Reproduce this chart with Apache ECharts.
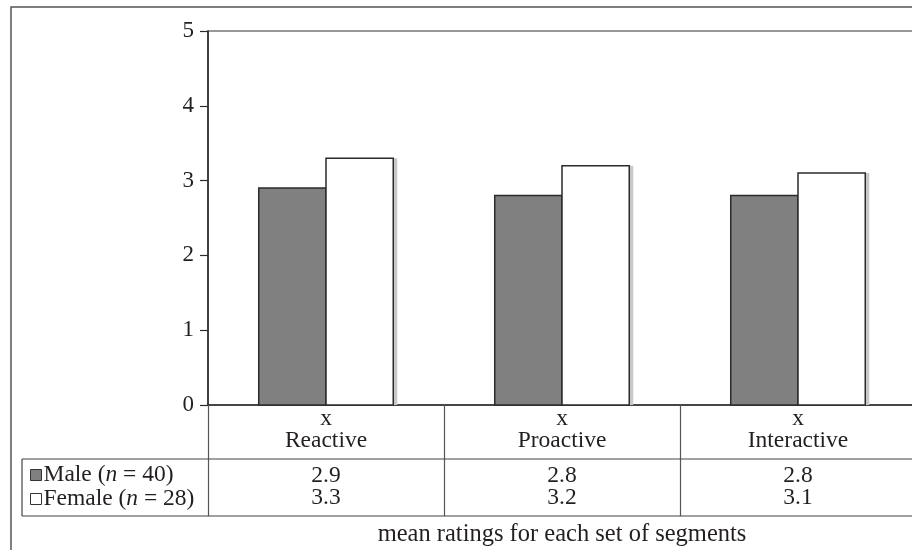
<!DOCTYPE html>
<html>
<head>
<meta charset="utf-8">
<script src="https://cdn.jsdelivr.net/npm/echarts@6/dist/echarts.min.js"></script>
<style>
  html, body { margin: 0; padding: 0; background: #fff; }
  #chart { width: 912px; height: 550px; }
</style>
</head>
<body>
<div id="chart"></div>
<script>
// Segment types along the x axis
const categories = ['Reactive', 'Proactive', 'Interactive'];
// Mean ratings per group
const maleValues = [2.9, 2.8, 2.8];
const femaleValues = [3.3, 3.2, 3.1];
// Group names and sample sizes
const groupNames = ['Male', 'Female'];
const groupCounts = [40, 28];
// Value axis ticks
const yTicks = [0, 1, 2, 3, 4, 5];
const axisTitle = 'mean ratings for each set of segments';

const FONT = 'Liberation Serif';
const INK = '#231f20';
const EDGE = '#2b2b2b';
const CATEGORY_GAP = 0.43;          // share of each category left empty
const groupFills = ['#808080', '#ffffff'];

const chart = echarts.init(document.getElementById('chart'), null, { renderer: 'canvas' });

// Bars drawn side by side in each category, each with a flat drop shadow to its right.
function barRenderer(groupIndex) {
  return function (params, api) {
    const cat = api.value(0);
    const val = api.value(1);
    const top = api.coord([cat, val]);
    const base = api.coord([cat, 0]);
    const bandWidth = api.size([1, 0])[0];
    const w = bandWidth * (1 - CATEGORY_GAP) / 2;
    const x = groupIndex === 0 ? top[0] - w : top[0];
    const h = base[1] - top[1];
    return {
      type: 'group',
      children: [
        { type: 'rect', shape: { x: x + 4, y: top[1], width: w, height: h },
          style: { fill: '#c9c9c9' } },
        { type: 'rect', shape: { x: x, y: top[1], width: w, height: h },
          style: { fill: groupFills[groupIndex], stroke: EDGE, lineWidth: 1.5 } }
      ]
    };
  };
}

chart.setOption({
  animation: false,
  backgroundColor: '#fff',
  textStyle: { fontFamily: FONT, color: INK },
  grid: {
    left: 208, width: 708, top: 31, bottom: 145,
    containLabel: false,
    outerBoundsMode: 'none',
    show: true, borderColor: '#333', borderWidth: 1.2, backgroundColor: 'transparent'
  },
  legend: {
    orient: 'vertical',
    left: 25,
    top: 458,
    itemWidth: 11,
    itemHeight: 11,
    itemGap: 0,
    icon: 'rect',
    data: groupNames,
    itemStyle: { borderColor: '#333', borderWidth: 1 },
    textStyle: {
      fontFamily: FONT, fontSize: 23.5, color: INK, lineHeight: 20, padding: [0, 0, 0, -3],
      rich: {
        i: { fontFamily: FONT, fontSize: 23.5, fontStyle: 'italic', color: INK, lineHeight: 20 }
      }
    },
    formatter: name => `${name} ({i|n} = ${groupCounts[groupNames.indexOf(name)]})`
  },
  xAxis: {
    type: 'category',
    data: categories,
    boundaryGap: true,
    axisLine: { lineStyle: { color: EDGE, width: 1.5 } },
    axisTick: { show: true, length: 111, lineStyle: { color: '#555', width: 1.2 } },
    axisLabel: {
      margin: 3,
      interval: 0,
      formatter: (value, idx) =>
        `{a|x}\n{a|${value}}\n{s| }\n{a|${maleValues[idx].toFixed(1)}}\n{a|${femaleValues[idx].toFixed(1)}}`,
      rich: {
        a: { fontFamily: FONT, fontSize: 23.5, color: INK, lineHeight: 22 },
        s: { fontSize: 10, lineHeight: 13 }
      }
    },
    name: axisTitle,
    nameLocation: 'middle',
    nameGap: 117,
    nameTextStyle: { fontFamily: FONT, fontSize: 24.5, color: INK }
  },
  yAxis: {
    type: 'value',
    min: yTicks[0],
    max: yTicks[yTicks.length - 1],
    interval: 1,
    axisLine: { show: true, lineStyle: { color: EDGE, width: 1.5 } },
    axisTick: { show: true, length: 8, lineStyle: { color: EDGE, width: 1.2 } },
    axisLabel: { margin: 14, fontFamily: FONT, fontSize: 23, color: INK },
    splitLine: { show: false }
  },
  series: [
    {
      name: groupNames[0],
      type: 'custom',
      renderItem: barRenderer(0),
      encode: { x: 0, y: 1 },
      data: maleValues.map((v, i) => [i, v]),
      itemStyle: { color: groupFills[0] },
      z: 2
    },
    {
      name: groupNames[1],
      type: 'custom',
      renderItem: barRenderer(1),
      encode: { x: 0, y: 1 },
      data: femaleValues.map((v, i) => [i, v]),
      itemStyle: { color: groupFills[1] },
      z: 3
    }
  ],
  graphic: [
    // outer frame (left and top edges visible)
    { type: 'rect', silent: true, z: 0,
      shape: { x: 11, y: 7, width: 1000, height: 1000 },
      style: { fill: 'none', stroke: '#555', lineWidth: 1.5 } },
    // data table rules
    { type: 'line', silent: true, z: 10,
      shape: { x1: 22, y1: 459, x2: 912, y2: 459 },
      style: { stroke: '#444', lineWidth: 1.2 } },
    { type: 'line', silent: true, z: 10,
      shape: { x1: 22, y1: 516, x2: 912, y2: 516 },
      style: { stroke: '#444', lineWidth: 1.2 } },
    { type: 'line', silent: true, z: 10,
      shape: { x1: 22, y1: 459, x2: 22, y2: 516 },
      style: { stroke: '#444', lineWidth: 1.2 } }
  ]
});
</script>
</body>
</html>
